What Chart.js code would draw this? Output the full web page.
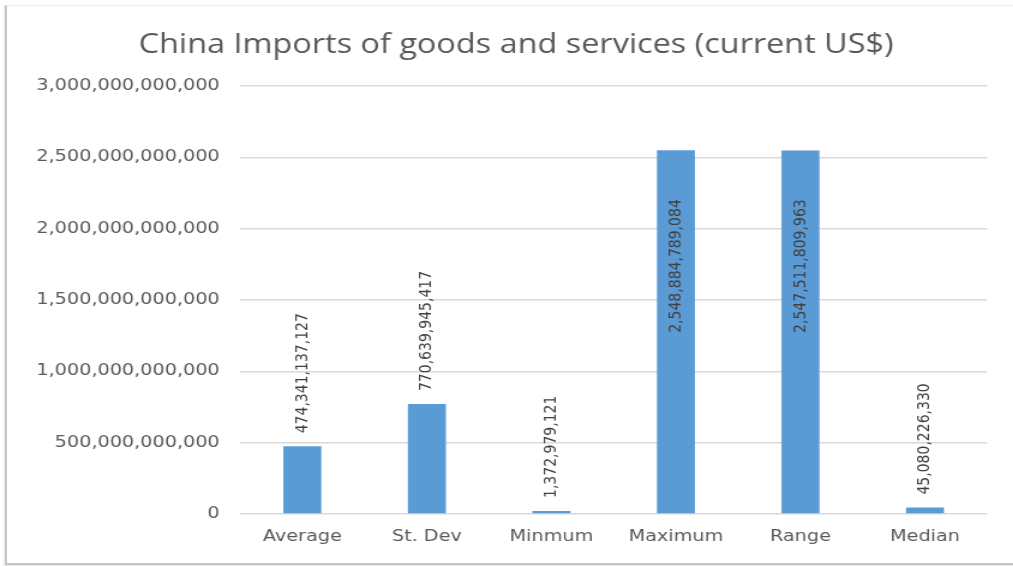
<!DOCTYPE html>
<html>
<head>
<meta charset="utf-8">
<script src="https://cdn.jsdelivr.net/npm/chart.js@4/dist/chart.umd.min.js"></script>
<style>
html,body{margin:0;padding:0;background:#fff;overflow:hidden;width:1013px;height:566px;}
#wrap{position:absolute;left:0;top:0;width:844px;height:566px;transform:scaleX(1.2003);transform-origin:0 0;}
#frame{position:absolute;left:5px;top:5px;width:1012px;height:557px;border-left:2px solid #c4c4c4;border-bottom:2px solid #c4c4c4;border-top:1px solid #eeeeee;box-shadow:-1px 1px 2px rgba(0,0,0,0.12);pointer-events:none;}
</style>
</head>
<body>
<div id="wrap"><canvas id="c" width="844" height="566"></canvas></div>
<div id="frame"></div>
<script>
const titleText = 'China Imports of goods and services (current US$)';
const categories = ['Average', 'St. Dev', 'Minmum', 'Maximum', 'Range', 'Median'];
const values = [474341137127, 770639945417, 1372979121, 2548884789084, 2547511809963, 45080226330];
const valueLabels = ['474,341,137,127', '770,639,945,417', '1,372,979,121', '2,548,884,789,084', '2,547,511,809,963', '45,080,226,330'];
const yTickValues = [0, 500000000000, 1000000000000, 1500000000000, 2000000000000, 2500000000000, 3000000000000];

const titlePlugin = {
  id: 'customTitle',
  afterDraw(chart) {
    const ctx = chart.ctx;
    ctx.save();
    ctx.font = '27px "Open Sans"';
    ctx.fillStyle = '#595959';
    ctx.textAlign = 'center';
    ctx.textBaseline = 'alphabetic';
    ctx.fillText(titleText, 430, 53);
    ctx.restore();
  }
};

const labelPlugin = {
  id: 'valueLabels',
  afterDatasetsDraw(chart) {
    const ctx = chart.ctx;
    const meta = chart.getDatasetMeta(0);
    const area = chart.chartArea;
    ctx.save();
    ctx.font = '14px "DejaVu Sans"';
    ctx.fillStyle = '#404040';
    ctx.textBaseline = 'middle';
    ctx.textAlign = 'left';
    meta.data.forEach((bar, i) => {
      const txt = valueLabels[i];
      const w = ctx.measureText(txt).width;
      let start = bar.y - 13;
      if (start - w < area.top) {
        start = (bar.y + bar.base) / 2 + 1;
      }
      ctx.save();
      ctx.translate(bar.x, start);
      ctx.rotate(-Math.PI / 2);
      ctx.fillText(txt, 0, 0);
      ctx.restore();
    });
    ctx.restore();
  }
};

new Chart(document.getElementById('c'), {
  type: 'bar',
  data: {
    labels: categories,
    datasets: [{
      data: values,
      backgroundColor: '#5b9bd5',
      borderWidth: 0,
      minBarLength: 3,
      categoryPercentage: 1,
      barPercentage: 0.305
    }]
  },
  options: {
    responsive: false,
    animation: false,
    devicePixelRatio: 1,
    layout: { padding: { left: 0, right: 21.5, top: 86, bottom: 0 } },
    plugins: {
      legend: { display: false },
      tooltip: { enabled: false },
      title: { display: false }
    },
    scales: {
      x: {
        grid: { display: false, drawTicks: false },
        border: { display: false },
        ticks: { color: '#595959', font: { family: '"DejaVu Sans"', size: 16 }, padding: 13, maxRotation: 0 },
        afterFit(scale) { scale.height = 52; }
      },
      y: {
        min: 0,
        max: 3000000000000,
        afterBuildTicks(scale) { scale.ticks = yTickValues.map(v => ({ value: v })); },
        grid: { color: '#d9d9d9', lineWidth: 1.5, drawTicks: false },
        border: { display: false },
        ticks: {
          color: '#595959',
          font: { family: '"DejaVu Sans"', size: 16 },
          padding: 17,
          callback: v => Number(v).toLocaleString('en-US')
        },
        afterFit(scale) { scale.width = 200; }
      }
    }
  },
  plugins: [labelPlugin, titlePlugin]
});
</script>
</body>
</html>
